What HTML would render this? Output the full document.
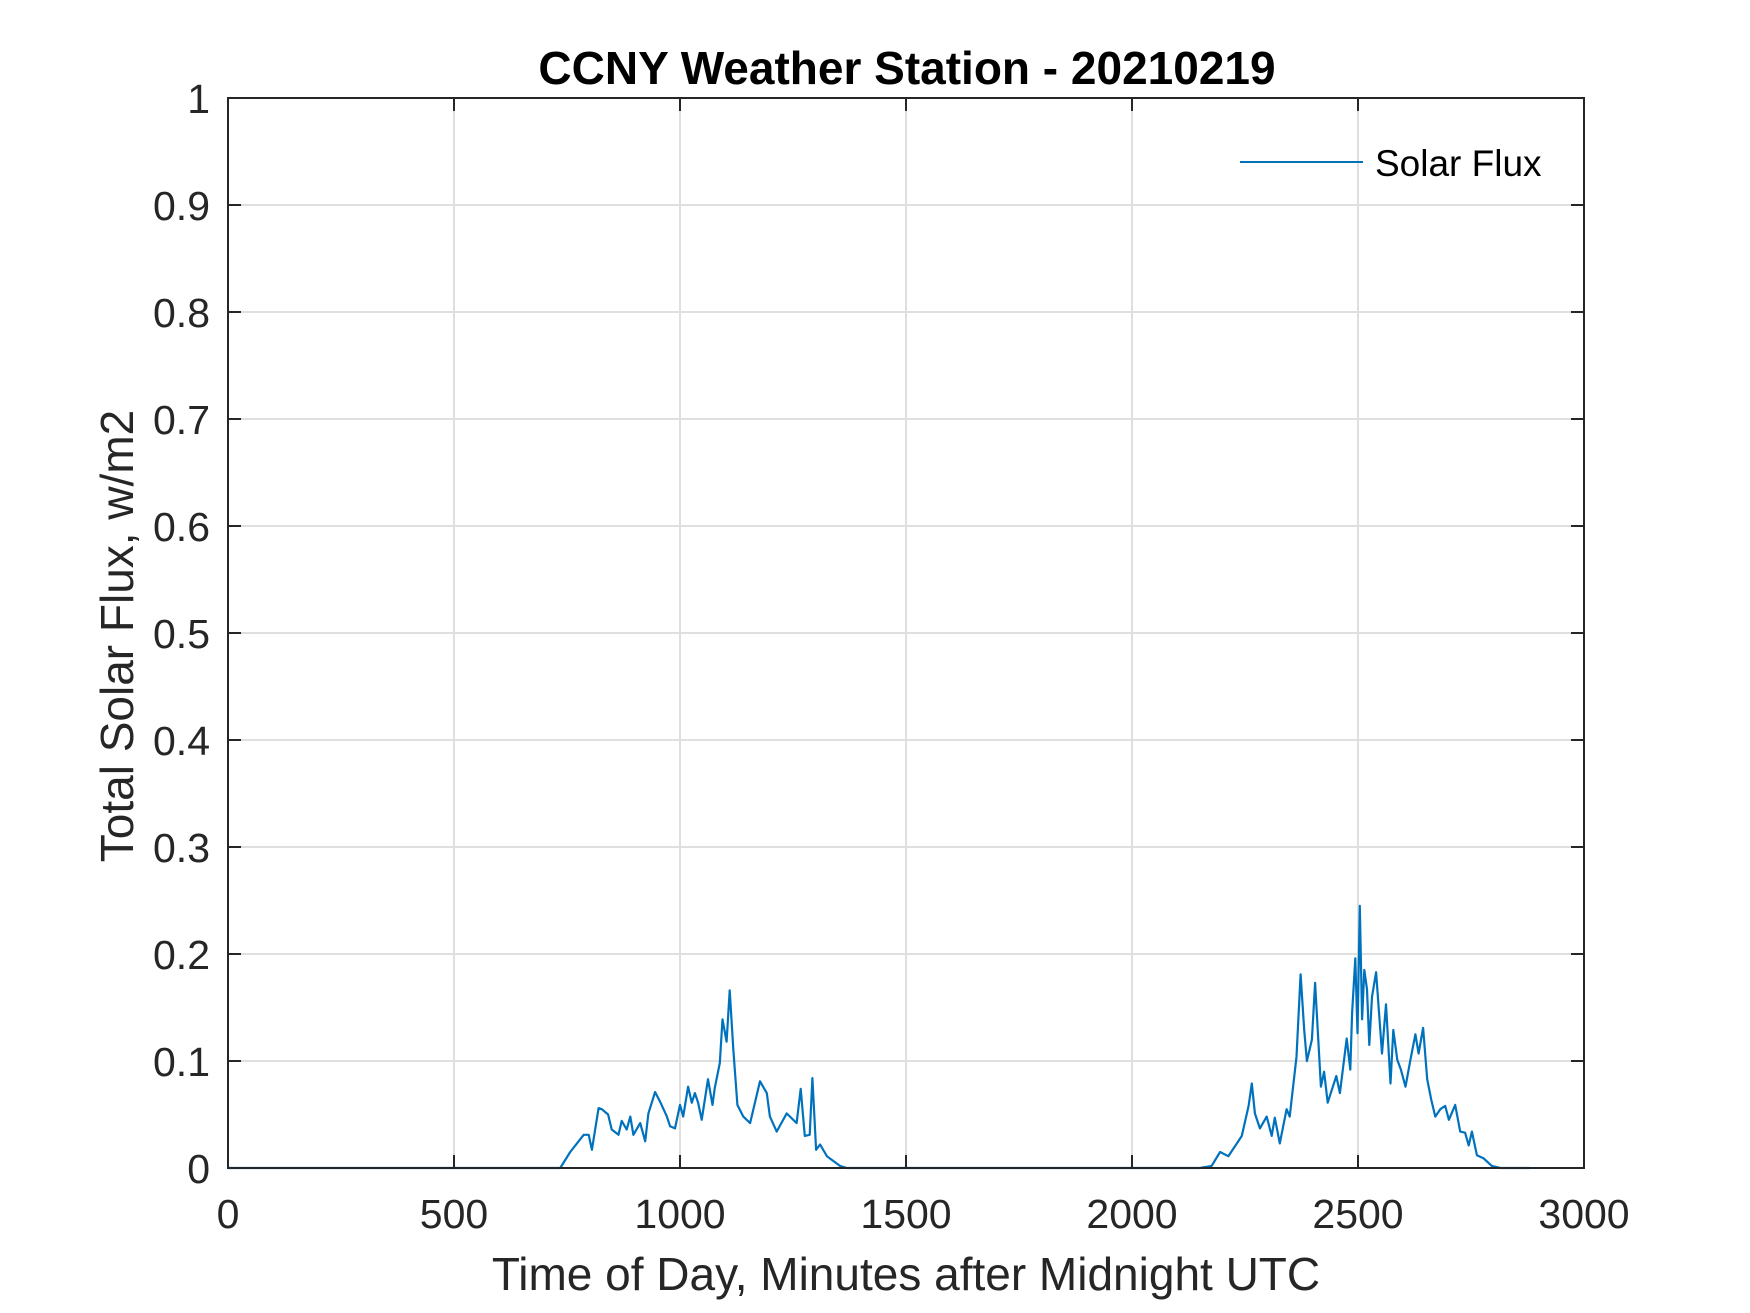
<!DOCTYPE html>
<html><head><meta charset="utf-8"><style>
html,body{margin:0;padding:0;background:#fff}
svg{display:block;font-family:"Liberation Sans",Arial,sans-serif}
</style></head><body>
<svg id="chart" width="1750" height="1313" viewBox="0 0 1750 1313" xmlns="http://www.w3.org/2000/svg">
<rect width="1750" height="1313" fill="#fff"/>
<text x="907" y="84" text-anchor="middle" font-size="46" font-weight="bold" fill="#000">CCNY Weather Station - 20210219</text>
<g id="grid"></g>
<g id="plot"></g>
<g id="axes"></g>
<text x="906" y="1290" text-anchor="middle" font-size="46" fill="#262626">Time of Day, Minutes after Midnight UTC</text>
<text transform="translate(133,636) rotate(-90)" text-anchor="middle" font-size="46" fill="#262626">Total Solar Flux, w/m2</text>
<g>
<line x1="1240" y1="162" x2="1363" y2="162" stroke="#0072BD" stroke-width="2"/>
<text x="1375" y="176" font-size="37" fill="#000">Solar Flux</text>
</g>
</svg>
<script>
const xTicks=[0,500,1000,1500,2000,2500,3000];
const yTicks=[0,0.1,0.2,0.3,0.4,0.5,0.6,0.7,0.8,0.9,1];
const yTickLabels=["0","0.1","0.2","0.3","0.4","0.5","0.6","0.7","0.8","0.9","1"];
const minutes=[0,668,735,757,787,798,805,820,827,841,849,864,871,882,890,897,912,923,930,945,956,971,978,989,1000,1007,1018,1026,1033,1040,1048,1062,1072,1077,1088,1094,1103,1110,1118,1127,1140,1155,1177,1192,1199,1214,1236,1258,1267,1276,1287,1293,1301,1310,1325,1354,1369,2150,2176,2195,2213,2232,2243,2258,2265,2272,2283,2298,2309,2316,2327,2342,2349,2364,2373,2381,2387,2398,2405,2418,2425,2433,2442,2452,2460,2475,2483,2487,2494,2499,2504,2509,2514,2520,2525,2531,2540,2546,2553,2562,2572,2578,2587,2595,2605,2616,2627,2634,2644,2653,2662,2671,2682,2693,2701,2715,2726,2737,2745,2752,2763,2778,2796,2815,2880];
const flux=[0,0,0,0.015,0.031,0.031,0.017,0.056,0.055,0.05,0.036,0.031,0.044,0.036,0.048,0.031,0.042,0.025,0.051,0.071,0.062,0.048,0.039,0.037,0.059,0.048,0.076,0.061,0.070,0.061,0.045,0.083,0.059,0.075,0.098,0.139,0.118,0.166,0.111,0.059,0.048,0.042,0.081,0.070,0.048,0.034,0.051,0.042,0.074,0.030,0.031,0.084,0.017,0.022,0.011,0.002,0,0,0.002,0.015,0.011,0.023,0.030,0.058,0.079,0.051,0.037,0.048,0.030,0.047,0.023,0.055,0.048,0.104,0.181,0.129,0.100,0.120,0.173,0.076,0.090,0.061,0.073,0.086,0.070,0.121,0.092,0.145,0.196,0.126,0.245,0.139,0.185,0.167,0.115,0.160,0.183,0.148,0.107,0.153,0.079,0.129,0.101,0.092,0.076,0.101,0.125,0.107,0.131,0.083,0.064,0.048,0.055,0.058,0.045,0.059,0.034,0.033,0.021,0.034,0.012,0.009,0.002,0,0];
const L=228,R=1584,T=98,B=1168;
const X=v=>L+(v-0)/(3000-0)*(R-L);
const Y=v=>B-(v-0)/(1-0)*(B-T);
const NS="http://www.w3.org/2000/svg";
function mk(tag,parent,attrs){const e=document.createElementNS(NS,tag);for(const k in attrs)e.setAttribute(k,attrs[k]);parent.appendChild(e);return e;}
const grid=document.getElementById('grid'),axes=document.getElementById('axes'),plot=document.getElementById('plot');
xTicks.forEach(t=>{
  const g=mk('line',grid,{x1:X(t),x2:X(t),y1:T,y2:B,stroke:'#dfdfdf','stroke-width':2});
  
  
  const a=mk('line',axes,{x1:X(t),x2:X(t),y1:B,y2:B-13,stroke:'#262626','stroke-width':2});
  
  
  const b=mk('line',axes,{x1:X(t),x2:X(t),y1:T,y2:T+13,stroke:'#262626','stroke-width':2});
  
  
  const l=mk('text',axes,{x:X(t),y:1228,'text-anchor':'middle','font-size':41,fill:'#262626'});
  l.textContent=String(t);
  
  
});
yTicks.forEach((t,i)=>{
  const g=mk('line',grid,{x1:L,x2:R,y1:Y(t),y2:Y(t),stroke:'#dfdfdf','stroke-width':2});
  
  
  const a=mk('line',axes,{x1:L,x2:L+13,y1:Y(t),y2:Y(t),stroke:'#262626','stroke-width':2});
  
  
  const b=mk('line',axes,{x1:R,x2:R-13,y1:Y(t),y2:Y(t),stroke:'#262626','stroke-width':2});
  
  
  const l=mk('text',axes,{x:210,y:Y(t)+15,'text-anchor':'end','font-size':41,fill:'#262626'});
  l.textContent=yTickLabels[i];
  
  
});
const box=mk('rect',axes,{x:L,y:T,width:R-L,height:B-T,fill:'none',stroke:'#262626','stroke-width':2});


const d=minutes.map((m,i)=>(i?'L':'M')+X(m).toFixed(1)+' '+Y(flux[i]).toFixed(1)).join(' ');
const line=mk('path',plot,{d:d,fill:'none',stroke:'#0072BD','stroke-width':2.2,'stroke-linejoin':'round'});


</script>
</body></html>
